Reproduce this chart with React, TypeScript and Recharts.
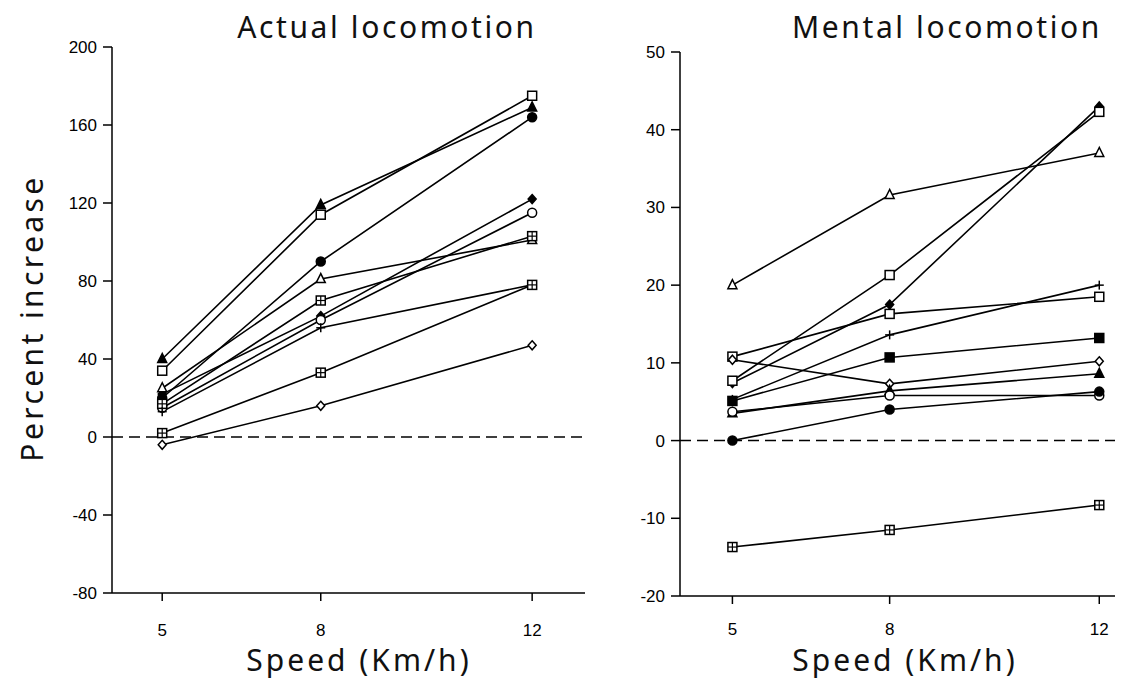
import React from 'react';
import { LineChart, Line, XAxis, YAxis, ReferenceLine } from 'recharts';

const speeds = [5, 8, 12];

// Actual locomotion (percent increase)
const actualOpenSquare = [34, 114, 175];
const actualFilledTriangle = [40, 119, 169];
const actualFilledCircle = [20, 90, 164];
const actualFilledDiamond = [22, 62, 122];
const actualOpenCircle = [15, 60, 115];
const actualOpenTriangle = [25, 81, 101];
const actualHashSquare = [17, 70, 103];
const actualPlus = [13, 56, 78];
const actualHashSquareLow = [2, 33, 78];
const actualOpenDiamond = [-4, 16, 47];

// Mental locomotion (percent increase)
const mentalOpenTriangle = [20, 31.6, 37];
const mentalFilledDiamond = [7.4, 17.5, 43];
const mentalOpenSquareHigh = [7.7, 21.3, 42.3];
const mentalOpenSquare = [10.8, 16.3, 18.5];
const mentalOpenDiamond = [10.4, 7.3, 10.2];
const mentalPlus = [5.3, 13.6, 20];
const mentalFilledSquare = [5.1, 10.7, 13.2];
const mentalFilledTriangle = [3.5, 6.4, 8.6];
const mentalOpenCircle = [3.7, 5.8, 5.8];
const mentalFilledCircle = [0, 4, 6.3];
const mentalHashSquare = [-13.7, -11.5, -8.3];

const actualTicks = [-80, -40, 0, 40, 80, 120, 160, 200];
const mentalTicks = [-20, -10, 0, 10, 20, 30, 40, 50];

type Kind =
  | 'openSquare' | 'filledSquare' | 'hashSquare' | 'openTriangle' | 'filledTriangle'
  | 'openCircle' | 'filledCircle' | 'openDiamond' | 'filledDiamond' | 'plus';

const actualSeries: { key: string; kind: Kind; values: number[] }[] = [
  { key: 'a1', kind: 'openSquare', values: actualOpenSquare },
  { key: 'a2', kind: 'filledTriangle', values: actualFilledTriangle },
  { key: 'a3', kind: 'filledCircle', values: actualFilledCircle },
  { key: 'a4', kind: 'filledDiamond', values: actualFilledDiamond },
  { key: 'a5', kind: 'openCircle', values: actualOpenCircle },
  { key: 'a6', kind: 'openTriangle', values: actualOpenTriangle },
  { key: 'a7', kind: 'hashSquare', values: actualHashSquare },
  { key: 'a8', kind: 'plus', values: actualPlus },
  { key: 'a9', kind: 'hashSquare', values: actualHashSquareLow },
  { key: 'a10', kind: 'openDiamond', values: actualOpenDiamond },
];

const mentalSeries: { key: string; kind: Kind; values: number[] }[] = [
  { key: 'm1', kind: 'openTriangle', values: mentalOpenTriangle },
  { key: 'm2', kind: 'filledDiamond', values: mentalFilledDiamond },
  { key: 'm3', kind: 'openSquare', values: mentalOpenSquareHigh },
  { key: 'm4', kind: 'openSquare', values: mentalOpenSquare },
  { key: 'm5', kind: 'openDiamond', values: mentalOpenDiamond },
  { key: 'm6', kind: 'plus', values: mentalPlus },
  { key: 'm7', kind: 'filledSquare', values: mentalFilledSquare },
  { key: 'm8', kind: 'filledTriangle', values: mentalFilledTriangle },
  { key: 'm9', kind: 'openCircle', values: mentalOpenCircle },
  { key: 'm10', kind: 'filledCircle', values: mentalFilledCircle },
  { key: 'm11', kind: 'hashSquare', values: mentalHashSquare },
];

function buildRows(series: { key: string; values: number[] }[]) {
  return speeds.map((s, i) => {
    const row: Record<string, number> = { speed: s };
    series.forEach((se) => (row[se.key] = se.values[i]));
    return row;
  });
}

function renderMarker(p: any, kind: Kind) {
  const { cx, cy } = p;
  const k = `${kind}-${p.index}`;
  if (cx == null || cy == null) return <g key={k} />;
  const s = 4.5;
  const sw = 1.5;
  switch (kind) {
    case 'openSquare':
    case 'filledSquare':
      return (
        <rect key={k} x={cx - s} y={cy - s} width={s * 2} height={s * 2}
          fill={kind === 'filledSquare' ? '#000' : '#fff'} stroke="#000" strokeWidth={sw} />
      );
    case 'hashSquare':
      return (
        <g key={k}>
          <rect x={cx - s} y={cy - s} width={s * 2} height={s * 2} fill="#fff" stroke="#000" strokeWidth={sw} />
          <line x1={cx - s} x2={cx + s} y1={cy} y2={cy} stroke="#000" strokeWidth={1.2} />
          <line x1={cx} x2={cx} y1={cy - s} y2={cy + s} stroke="#000" strokeWidth={1.2} />
        </g>
      );
    case 'openTriangle':
    case 'filledTriangle':
      return (
        <polygon key={k} points={`${cx},${cy - s - 1} ${cx - s},${cy + s - 1} ${cx + s},${cy + s - 1}`}
          fill={kind === 'filledTriangle' ? '#000' : '#fff'} stroke="#000" strokeWidth={sw} />
      );
    case 'openCircle':
    case 'filledCircle':
      return (
        <circle key={k} cx={cx} cy={cy} r={s}
          fill={kind === 'filledCircle' ? '#000' : '#fff'} stroke="#000" strokeWidth={sw} />
      );
    case 'openDiamond':
    case 'filledDiamond':
      return (
        <polygon key={k} points={`${cx},${cy - s} ${cx + s - 0.5},${cy} ${cx},${cy + s} ${cx - s + 0.5},${cy}`}
          fill={kind === 'filledDiamond' ? '#000' : '#fff'} stroke="#000" strokeWidth={sw} />
      );
    case 'plus':
      return (
        <g key={k}>
          <line x1={cx - s} x2={cx + s} y1={cy} y2={cy} stroke="#000" strokeWidth={1.5} />
          <line x1={cx} x2={cx} y1={cy - s} y2={cy + s} stroke="#000" strokeWidth={1.5} />
        </g>
      );
  }
}

const tickStyle = { fill: '#000', fontSize: 17, fontFamily: 'Liberation Sans, Arial, sans-serif' };
const labelFont = "'Noto Sans', 'Open Sans', sans-serif";

function Panel({
  series, ticks, domainY, domainX, width, height, margin, yAxisWidth, xAxisHeight, xTickMargin,
}: {
  series: { key: string; kind: Kind; values: number[] }[];
  ticks: number[];
  domainY: [number, number];
  domainX: [number, number];
  width: number;
  height: number;
  margin: { top: number; right: number; left: number; bottom: number };
  yAxisWidth: number;
  xAxisHeight: number;
  xTickMargin: number;
}) {
  const rows = buildRows(series);
  return (
    <LineChart width={width} height={height} data={rows} margin={margin}>
      <XAxis
        type="number"
        dataKey="speed"
        domain={domainX}
        ticks={speeds}
        allowDataOverflow
        height={xAxisHeight}
        tick={tickStyle}
        tickSize={8}
        tickMargin={xTickMargin}
        stroke="#000"
        strokeWidth={1.5}
      />
      <YAxis
        type="number"
        domain={domainY}
        ticks={ticks}
        interval={0}
        width={yAxisWidth}
        tick={tickStyle}
        tickSize={9}
        tickMargin={6}
        stroke="#000"
        strokeWidth={1.5}
      />
      <ReferenceLine y={0} stroke="#000" strokeWidth={1.5} strokeDasharray="11 6" />
      {series.map((se) => (
        <Line
          key={se.key}
          dataKey={se.key}
          type="linear"
          stroke="#000"
          strokeWidth={1.6}
          isAnimationActive={false}
          dot={(p: any) => renderMarker(p, se.kind)}
          activeDot={false}
        />
      ))}
    </LineChart>
  );
}

const titleStyle: React.CSSProperties = {
  position: 'absolute',
  textAlign: 'center',
  fontFamily: labelFont,
  fontSize: 30,
  letterSpacing: 2.6,
  color: '#111',
  whiteSpace: 'nowrap',
  lineHeight: '32px',
};

export default function App() {
  return (
    <div style={{ position: 'absolute', left: 0, top: 0, width: 1144, height: 679, background: '#fff', overflow: 'hidden' }}>
      <div style={{ position: 'absolute', left: 0, top: 0 }}>
        <Panel
          series={actualSeries}
          ticks={actualTicks}
          domainY={[-80, 200]}
          domainX={[4.05, 13]}
          width={600}
          height={679}
          margin={{ top: 47, right: 15, left: 0, bottom: 0 }}
          yAxisWidth={112}
          xAxisHeight={86}
          xTickMargin={23}
        />
      </div>
      <div style={{ position: 'absolute', left: 580, top: 0 }}>
        <Panel
          series={mentalSeries}
          ticks={mentalTicks}
          domainY={[-20, 50]}
          domainX={[4, 12.3]}
          width={564}
          height={679}
          margin={{ top: 52, right: 29, left: 0, bottom: 0 }}
          yAxisWidth={100}
          xAxisHeight={83}
          xTickMargin={19}
        />
      </div>
      <div style={{ ...titleStyle, left: 227, top: 11, width: 320 }}>Actual locomotion</div>
      <div style={{ ...titleStyle, left: 787, top: 11, width: 320 }}>Mental locomotion</div>
      <div style={{ ...titleStyle, left: 229, top: 644, width: 260, letterSpacing: 3 }}>Speed (Km/h)</div>
      <div style={{ ...titleStyle, left: 775, top: 644, width: 260, letterSpacing: 3 }}>Speed (Km/h)</div>
      <div style={{ position: 'absolute', left: 32, top: 318, width: 0, height: 0 }}>
        <div style={{ ...titleStyle, left: -160, top: -16, width: 320, transform: 'rotate(-90deg)', letterSpacing: 3.4 }}>
          Percent increase
        </div>
      </div>
    </div>
  );
}
